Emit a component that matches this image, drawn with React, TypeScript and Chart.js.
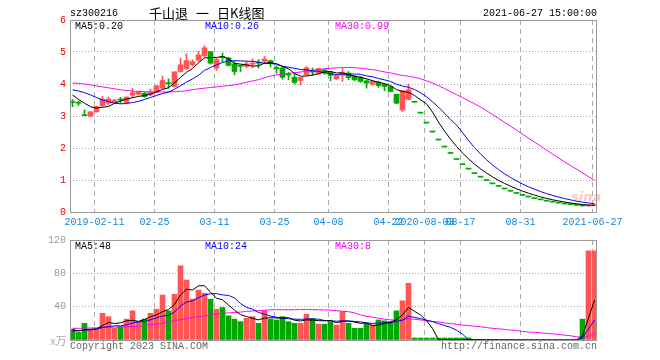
import React, { useEffect, useRef } from 'react';
import { Chart, registerables } from 'chart.js';
Chart.register(...registerables);

// ---------- data ----------
const openP = [
  3.43, 3.41, 3.02, 3.00, 3.13, 3.32, 3.40, 3.44, 3.51, 3.42,
  3.65, 3.68, 3.71, 3.66, 3.75, 3.87, 4.03, 3.92, 4.39, 4.48,
  4.60, 4.74, 4.88, 5.01, 4.50, 4.84, 4.81, 4.63, 4.56, 4.55,
  4.62, 4.66, 4.71, 4.73, 4.49, 4.50, 4.29, 4.21, 4.11, 4.29,
  4.38, 4.34, 4.44, 4.37, 4.16, 4.27, 4.34, 4.24, 4.20, 4.10,
  3.99, 4.06, 3.99, 3.92, 3.68, 3.19, 3.52,
  3.43, 3.09, 2.78, 2.50, 2.25, 2.03, 1.83, 1.64, 1.48, 1.34,
  1.20, 1.09, 0.98, 0.88, 0.80, 0.72, 0.65, 0.58, 0.52, 0.47,
  0.42, 0.38, 0.34, 0.31, 0.28, 0.25, 0.23, 0.21,
  0.21, 0.19, 0.20,
];
const highP = [
  3.52, 3.47, 3.19, 3.14, 3.31, 3.61, 3.59, 3.52, 3.58, 3.60,
  3.86, 3.77, 3.75, 3.84, 3.96, 4.25, 4.16, 4.38, 4.81, 4.95,
  4.76, 5.02, 5.20, 5.02, 4.81, 4.97, 4.83, 4.71, 4.60, 4.70,
  4.79, 4.76, 4.86, 4.75, 4.57, 4.55, 4.36, 4.34, 4.21, 4.55,
  4.50, 4.50, 4.47, 4.39, 4.28, 4.48, 4.39, 4.27, 4.24, 4.13,
  4.12, 4.08, 4.00, 3.93, 3.68, 3.79, 4.00,
  3.43, 3.09, 2.78, 2.50, 2.25, 2.03, 1.83, 1.64, 1.48, 1.34,
  1.20, 1.09, 0.98, 0.88, 0.80, 0.72, 0.65, 0.58, 0.52, 0.47,
  0.42, 0.38, 0.34, 0.31, 0.28, 0.25, 0.23, 0.21,
  0.22, 0.21, 0.22,
];
const lowP = [
  3.29, 3.33, 3.01, 2.98, 3.12, 3.30, 3.35, 3.42, 3.40, 3.41,
  3.59, 3.66, 3.58, 3.63, 3.73, 3.85, 3.87, 3.90, 4.37, 4.45,
  4.55, 4.70, 4.85, 4.62, 4.42, 4.67, 4.56, 4.29, 4.39, 4.50,
  4.50, 4.50, 4.65, 4.53, 4.34, 4.15, 4.13, 4.00, 3.97, 4.27,
  4.27, 4.30, 4.30, 4.10, 4.14, 4.08, 4.13, 4.10, 4.05, 3.87,
  3.96, 3.89, 3.79, 3.75, 3.38, 3.14, 3.50,
  3.43, 3.09, 2.78, 2.50, 2.25, 2.03, 1.83, 1.64, 1.48, 1.34,
  1.20, 1.09, 0.98, 0.88, 0.80, 0.72, 0.65, 0.58, 0.52, 0.47,
  0.42, 0.38, 0.34, 0.31, 0.28, 0.25, 0.23, 0.21,
  0.18, 0.18, 0.19,
];
const closeP = [
  3.42, 3.40, 3.01, 3.13, 3.29, 3.53, 3.53, 3.50, 3.50, 3.59,
  3.73, 3.75, 3.61, 3.74, 3.94, 4.11, 4.01, 4.38, 4.60, 4.73,
  4.70, 4.91, 5.13, 4.65, 4.76, 4.83, 4.58, 4.39, 4.55, 4.63,
  4.64, 4.65, 4.78, 4.63, 4.48, 4.21, 4.28, 4.05, 4.20, 4.50,
  4.37, 4.48, 4.34, 4.27, 4.27, 4.37, 4.20, 4.13, 4.08, 4.03,
  4.08, 3.95, 3.92, 3.77, 3.40, 3.79, 3.82,
  3.43, 3.09, 2.78, 2.50, 2.25, 2.03, 1.83, 1.64, 1.48, 1.34,
  1.20, 1.09, 0.98, 0.88, 0.80, 0.72, 0.65, 0.58, 0.52, 0.47,
  0.42, 0.38, 0.34, 0.31, 0.28, 0.25, 0.23, 0.21,
  0.19, 0.20, 0.21,
];
// volume, in 万 (null = no bar)
const volume: (number | null)[] = [
  13, 9, 20, 12, 13, 32, 28, 14, 16, 25,
  35, 22, 25, 32, 37, 54, 35, 55, 89, 72,
  49, 60, 56, 49, 37, 39, 29, 25, 22, 26,
  28, 20, 35, 25, 24, 28, 22, 20, 20, 31,
  26, 19, 19, 22, 18, 34, 20, 14, 14, 20,
  18, 24, 23, 22, 35, 47, 68,
  0.3, 0.3, 0.3, 0.3, 0.3, 0.3, 0.3, 0.3, 0.3, 0.3,
  null, null, null, null, null, null, null, null, null, null,
  null, null, null, null, null, null, null, null,
  25, 107, 107,
];
// moving-average values before the window is full
const ma5Lead = [3.66, 3.52, 3.40, 3.29];
const ma10Lead = [3.82, 3.78, 3.73, 3.66, 3.58, 3.50, 3.45, 3.40, 3.38];
const ma30Lead = [
  4.03, 4.02, 4.00, 3.97, 3.94, 3.91, 3.88, 3.85, 3.82, 3.80,
  3.78, 3.77, 3.76, 3.75, 3.75, 3.75, 3.75, 3.76, 3.77, 3.79,
  3.82, 3.85, 3.87, 3.89, 3.91, 3.93, 3.95, 3.97, 4.01,
];
const volMa5Lead = [12, 11, 12, 13];
const volMa10Lead = [11, 11, 12, 12, 13, 15, 16, 17, 17];
const volMa30Lead = [
  14, 14, 14.2, 14.4, 14.6, 15, 15.2, 15.4, 15.6, 15.8,
  16, 16.5, 17.5, 18.5, 19, 20, 21.5, 23, 24.5, 25.5,
  27, 28, 29, 30.5, 31.5, 32, 32.5, 33, 33.5,
];
const tickIndex = [4, 14, 24, 34, 43, 53, 59, 65, 75, 87];
const tickLabels = ['2019-02-11', '02-25', '03-11', '03-25', '04-08', '04-22', '2020-08-03', '08-17', '08-31', '2021-06-27'];
const legendPrice = ['MA5:0.20', 'MA10:0.26', 'MA30:0.99'];
const legendVol = ['MA5:48', 'MA10:24', 'MA30:8'];

// ---------- style ----------
const MONO = "'Liberation Mono', 'DejaVu Sans Mono', monospace";
const RED = '#ff5555';
const GREEN = '#00a800';
const C_MA5 = '#000000';
const C_MA10 = '#0000ff';
const C_MA30 = '#ff00ff';
const X_MIN = -2.5 / 6;
const X_MAX = X_MIN + 527 / 6;

function movingAvg(values: (number | null)[], n: number, lead: number[]): number[] {
  return values.map((_, i) => {
    if (i < n - 1) return lead[i];
    let s = 0;
    for (let k = i - n + 1; k <= i; k++) s += values[k] ?? 0;
    return s / n;
  });
}

const candleColor = closeP.map((c, i) => {
  const o = openP[i];
  if (c > o) return RED;
  if (c < o) return GREEN;
  const prev = i > 0 ? closeP[i - 1] : c;
  return c < prev ? GREEN : RED;
});

function xScale(showTicks: boolean, height: number): any {
  return {
    type: 'linear',
    min: X_MIN,
    max: X_MAX,
    offset: false,
    grid: { color: '#aaaaaa', lineWidth: 1, drawTicks: false, offset: false },
    border: { display: false, dash: [5, 4] },
    ticks: {
      display: showTicks,
      color: '#1188dd',
      font: { family: MONO, size: 10 },
      padding: 4,
      maxRotation: 0,
      minRotation: 0,
      autoSkip: false,
      callback: (_v: any, i: number) => tickLabels[i] ?? '',
    },
    afterBuildTicks: (scale: any) => {
      scale.ticks = tickIndex.map((v) => ({ value: v - 0.35 }));
    },
    afterFit: (scale: any) => {
      scale.height = height;
    },
  };
}

function text(ctx: CanvasRenderingContext2D, s: string, x: number, y: number, color: string, font: string, align: CanvasTextAlign = 'left') {
  ctx.fillStyle = color;
  ctx.font = font;
  ctx.textAlign = align;
  ctx.textBaseline = 'middle';
  ctx.fillText(s, x, y);
}

function frame(chart: any) {
  const { ctx, chartArea: a } = chart;
  ctx.save();
  ctx.strokeStyle = '#999999';
  ctx.lineWidth = 1;
  ctx.strokeRect(Math.round(a.left) + 0.5, Math.round(a.top) + 0.5, Math.round(a.right - a.left) - 1, Math.round(a.bottom - a.top));
  ctx.restore();
}

const pricePlugin = {
  id: 'priceTexts',
  afterDraw(chart: any) {
    frame(chart);
    const ctx = chart.ctx as CanvasRenderingContext2D;
    ctx.save();
    const f = `10px ${MONO}`;
    text(ctx, 'sz300216', 70, 13, '#000', f);
    const cjk = "13px 'Noto Sans CJK SC'";
    text(ctx, '千山退', 149, 13, '#000', cjk);
    text(ctx, '一', 196, 13, '#000', cjk);
    text(ctx, '日K线图', 217, 13, '#000', cjk);
    text(ctx, '2021-06-27 15:00:00', 597, 13, '#000', f, 'right');
    text(ctx, legendPrice[0], 75, 26.5, C_MA5, f);
    text(ctx, legendPrice[1], 205, 26.5, C_MA10, f);
    text(ctx, legendPrice[2], 335, 26.5, C_MA30, f);
    ctx.globalAlpha = 0.35;
    text(ctx, 'sina', 571, 198, '#e06060', "italic bold 13px 'DejaVu Sans'");
    ctx.restore();
  },
};

const volPlugin = {
  id: 'volTexts',
  afterDraw(chart: any) {
    frame(chart);
    const ctx = chart.ctx as CanvasRenderingContext2D;
    ctx.save();
    const f = `10px ${MONO}`;
    text(ctx, legendVol[0], 75, 246.5, C_MA5, f);
    text(ctx, legendVol[1], 205, 246.5, C_MA10, f);
    text(ctx, legendVol[2], 335, 246.5, C_MA30, f);
    text(ctx, 'x万', 50, 341, '#aaaaaa', "11px 'Noto Sans CJK SC'");
    text(ctx, 'Copyright 2023 SINA.COM', 70, 346, '#666666', f);
    text(ctx, 'http://finance.sina.com.cn', 597, 346, '#666666', f, 'right');
    ctx.restore();
  },
};

function lineDs(values: number[], color: string) {
  return {
    type: 'line',
    data: values.map((y, i) => ({ x: i, y })),
    borderColor: color,
    borderWidth: 1,
    pointRadius: 0,
    fill: false,
    tension: 0,
    order: 0,
  };
}

export default function App() {
  const priceRef = useRef<HTMLCanvasElement>(null);
  const volRef = useRef<HTMLCanvasElement>(null);

  useEffect(() => {
    document.body.style.margin = '0';
    const idx = closeP.map((_, i) => i);
    const ma5 = movingAvg(closeP, 5, ma5Lead);
    const ma10 = movingAvg(closeP, 10, ma10Lead);
    const ma30 = movingAvg(closeP, 30, ma30Lead);
    const vma5 = movingAvg(volume, 5, volMa5Lead);
    const vma10 = movingAvg(volume, 10, volMa10Lead);
    const vma30 = movingAvg(volume, 30, volMa30Lead);

    const common = {
      responsive: false,
      animation: false,
      events: [],
      plugins: { legend: { display: false }, tooltip: { enabled: false } },
    };

    const price = new Chart(priceRef.current!, {
      type: 'bar',
      data: {
        datasets: [
          lineDs(ma5, C_MA5),
          lineDs(ma10, C_MA10),
          lineDs(ma30, C_MA30),
          {
            type: 'bar',
            data: idx.map((i) => ({ x: i, y: [openP[i], closeP[i]] })),
            backgroundColor: candleColor,
            barThickness: 5,
            minBarLength: 1,
            grouped: false,
            borderWidth: 0,
            order: 2,
          },
          {
            type: 'bar',
            data: idx.map((i) => ({ x: i, y: [lowP[i], highP[i]] })),
            backgroundColor: candleColor,
            barThickness: 1,
            grouped: false,
            borderWidth: 0,
            order: 3,
          },
        ] as any,
      },
      options: {
        ...common,
        layout: { padding: { left: 0, right: 63, top: 20, bottom: 124 } },
        scales: {
          x: xScale(true, 24),
          y: {
            type: 'linear',
            min: 0,
            max: 6,
            position: 'left',
            ticks: { stepSize: 1, color: '#ee0000', font: { family: MONO, size: 10 }, padding: 4 },
            grid: { color: '#aaaaaa', drawTicks: false },
            border: { display: false, dash: [1, 2] },
            afterFit: (s: any) => {
              s.width = 70;
            },
          },
        },
      } as any,
      plugins: [pricePlugin],
    });

    const vol = new Chart(volRef.current!, {
      type: 'bar',
      data: {
        datasets: [
          lineDs(vma5, C_MA5),
          lineDs(vma10, C_MA10),
          lineDs(vma30, C_MA30),
          {
            type: 'bar',
            data: idx.map((i) => ({ x: i, y: volume[i] })),
            backgroundColor: candleColor,
            barThickness: 5,
            minBarLength: 2,
            grouped: false,
            borderWidth: 0,
            order: 2,
          },
        ] as any,
      },
      options: {
        ...common,
        layout: { padding: { left: 0, right: 63, top: 240, bottom: 20 } },
        scales: {
          x: xScale(false, 0),
          y: {
            type: 'linear',
            min: 0,
            max: 120,
            position: 'left',
            ticks: {
              stepSize: 40,
              color: '#999999',
              font: { family: MONO, size: 10 },
              padding: 4,
              callback: (v: any) => (v === 0 ? '' : String(v)),
            },
            grid: { color: '#aaaaaa', drawTicks: false },
            border: { display: false, dash: [1, 2] },
            afterFit: (s: any) => {
              s.width = 70;
            },
          },
        },
      } as any,
      plugins: [volPlugin],
    });

    return () => {
      price.destroy();
      vol.destroy();
    };
  }, []);

  return (
    <div style={{ position: 'relative', width: 660, height: 360 }}>
      <canvas ref={priceRef} width={660} height={360} style={{ position: 'absolute', left: 0, top: 0 }} />
      <canvas ref={volRef} width={660} height={360} style={{ position: 'absolute', left: 0, top: 0 }} />
    </div>
  );
}
